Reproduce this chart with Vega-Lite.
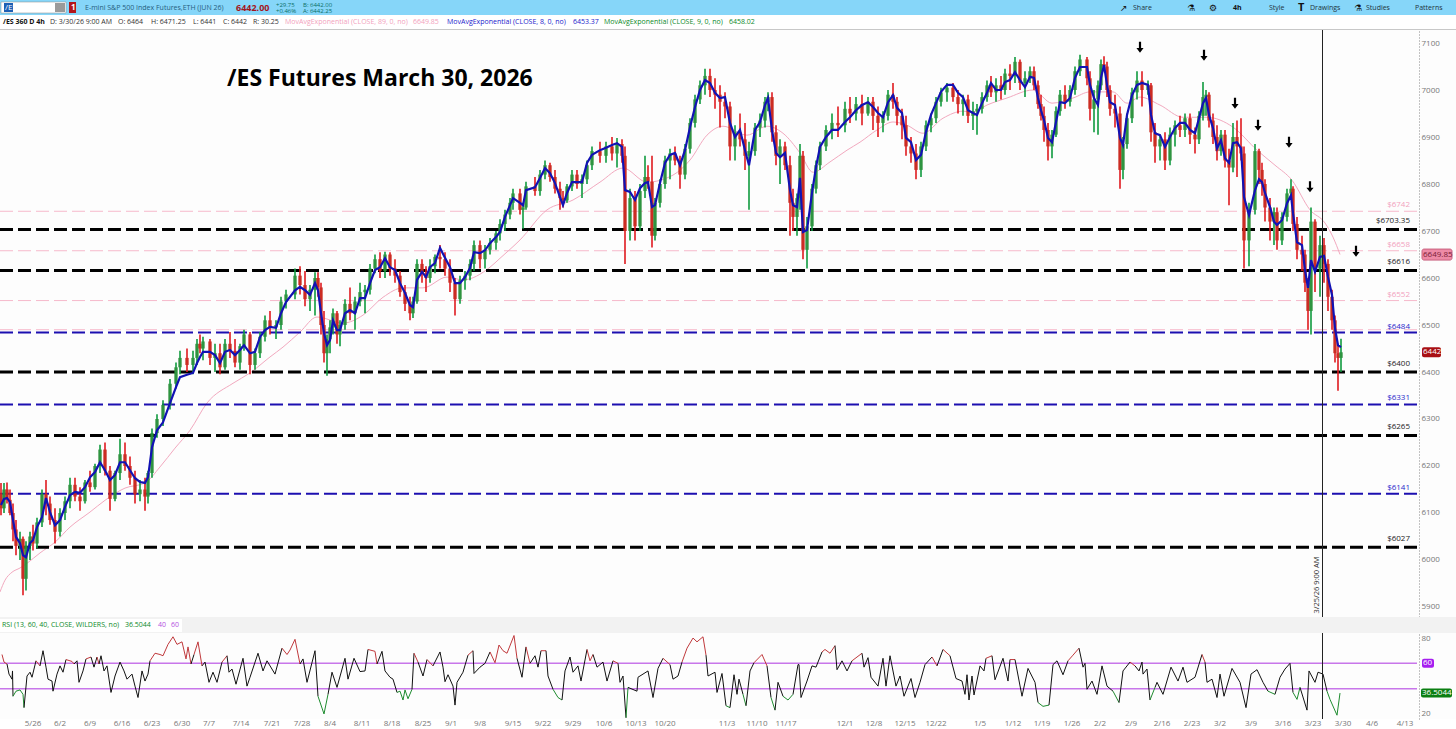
{"$schema":"https://vega.github.io/schema/vega-lite/v6.json","padding":{"left":-4,"top":0,"right":0,"bottom":0},"spacing":0,"bounds":"flush","background":"#ffffff","config":{"font":"Open Sans","view":{"stroke":null}},
"datasets":{
"ticks":[{"bar":33,"label":"5/26"},{"bar":60,"label":"6/2"},{"bar":90,"label":"6/9"},{"bar":122,"label":"6/16"},{"bar":152,"label":"6/23"},{"bar":182,"label":"6/30"},{"bar":209,"label":"7/7"},{"bar":241,"label":"7/14"},{"bar":272,"label":"7/21"},{"bar":302,"label":"7/28"},{"bar":330,"label":"8/4"},{"bar":362,"label":"8/11"},{"bar":392,"label":"8/18"},{"bar":423,"label":"8/25"},{"bar":451,"label":"9/1"},{"bar":480,"label":"9/8"},{"bar":513,"label":"9/15"},{"bar":543,"label":"9/22"},{"bar":573,"label":"9/29"},{"bar":604,"label":"10/6"},{"bar":636,"label":"10/13"},{"bar":665,"label":"10/20"},{"bar":727,"label":"11/3"},{"bar":757,"label":"11/10"},{"bar":786,"label":"11/17"},{"bar":845,"label":"12/1"},{"bar":874,"label":"12/8"},{"bar":905,"label":"12/15"},{"bar":936,"label":"12/22"},{"bar":980,"label":"1/5"},{"bar":1013,"label":"1/12"},{"bar":1042,"label":"1/19"},{"bar":1072,"label":"1/26"},{"bar":1100,"label":"2/2"},{"bar":1131,"label":"2/9"},{"bar":1162,"label":"2/16"},{"bar":1192,"label":"2/23"},{"bar":1220,"label":"3/2"},{"bar":1251,"label":"3/9"},{"bar":1283,"label":"3/16"},{"bar":1313,"label":"3/23"},{"bar":1343,"label":"3/30"},{"bar":1372,"label":"4/6"},{"bar":1405,"label":"4/13"}],
"levels":[{"price":6742,"label":"$6742","kind":"pink"},{"price":6658,"label":"$6658","kind":"pink"},{"price":6552,"label":"$6552","kind":"pink"},{"price":6490,"label":"","kind":"pink"},{"price":6484,"label":"$6484","kind":"blue"},{"price":6331,"label":"$6331","kind":"blue"},{"price":6141,"label":"$6141","kind":"blue"},{"price":6703.35,"label":"$6703.35","kind":"black"},{"price":6616,"label":"$6616","kind":"black"},{"price":6400,"label":"$6400","kind":"black"},{"price":6265,"label":"$6265","kind":"black"},{"price":6027,"label":"$6027","kind":"black"}],
"arrows":[{"bar":1140,"price":7091},{"bar":1204,"price":7074},{"bar":1235,"price":6972},{"bar":1258,"price":6925},{"bar":1289,"price":6889},{"bar":1310,"price":6794},{"bar":1356,"price":6657}],
"ema89":[{"bar":0,"v":5932},{"bar":5,"v":5957},{"bar":12,"v":5974},{"bar":20,"v":5983},{"bar":27,"v":5993},{"bar":40,"v":6015},{"bar":55,"v":6038},{"bar":70,"v":6070},{"bar":90,"v":6102},{"bar":105,"v":6127},{"bar":125,"v":6153},{"bar":145,"v":6164},{"bar":160,"v":6198},{"bar":175,"v":6238},{"bar":190,"v":6276},{"bar":207,"v":6334},{"bar":233,"v":6376},{"bar":250,"v":6398},{"bar":270,"v":6432},{"bar":283,"v":6453},{"bar":300,"v":6485},{"bar":317,"v":6517},{"bar":343,"v":6504},{"bar":363,"v":6521},{"bar":383,"v":6559},{"bar":403,"v":6579},{"bar":423,"v":6579},{"bar":447,"v":6602},{"bar":463,"v":6596},{"bar":490,"v":6623},{"bar":500,"v":6642},{"bar":520,"v":6681},{"bar":547,"v":6745},{"bar":573,"v":6766},{"bar":600,"v":6804},{"bar":623,"v":6834},{"bar":647,"v":6804},{"bar":673,"v":6819},{"bar":690,"v":6851},{"bar":707,"v":6904},{"bar":723,"v":6923},{"bar":747,"v":6904},{"bar":767,"v":6923},{"bar":783,"v":6908},{"bar":800,"v":6866},{"bar":813,"v":6825},{"bar":830,"v":6847},{"bar":847,"v":6872},{"bar":860,"v":6889},{"bar":877,"v":6915},{"bar":893,"v":6932},{"bar":907,"v":6925},{"bar":923,"v":6908},{"bar":943,"v":6940},{"bar":963,"v":6955},{"bar":973,"v":6953},{"bar":987,"v":6968},{"bar":1007,"v":6983},{"bar":1033,"v":7000},{"bar":1052,"v":6972},{"bar":1073,"v":6983},{"bar":1090,"v":6996},{"bar":1113,"v":6996},{"bar":1127,"v":6972},{"bar":1140,"v":6985},{"bar":1160,"v":6968},{"bar":1183,"v":6942},{"bar":1207,"v":6942},{"bar":1233,"v":6921},{"bar":1257,"v":6872},{"bar":1275,"v":6840},{"bar":1292,"v":6808},{"bar":1310,"v":6745},{"bar":1325,"v":6717},{"bar":1333,"v":6687},{"bar":1340,"v":6650}],
"candles":[
{"bar":1,"open":6140,"high":6164,"low":6095,"close":6110,"ema8":6117},{"bar":4,"open":6110,"high":6164,"low":6100,"close":6150,"ema8":6130},{"bar":7,"open":6150,"high":6165,"low":6120,"close":6128,"ema8":6132},{"bar":10,"open":6128,"high":6150,"low":6095,"close":6100,"ema8":6123},{"bar":13,"open":6100,"high":6120,"low":6040,"close":6065,"ema8":6085},{"bar":16,"open":6065,"high":6085,"low":6010,"close":6030,"ema8":6049},{"bar":20,"open":6030,"high":6060,"low":6000,"close":6045,"ema8":6036},{"bar":23,"open":6045,"high":6050,"low":5925,"close":5960,"ema8":6010},{"bar":26,"open":5960,"high":6040,"low":5935,"close":6030,"ema8":6006},{"bar":30,"open":6030,"high":6060,"low":6000,"close":6050,"ema8":6036},{"bar":33,"open":6050,"high":6075,"low":6020,"close":6035,"ema8":6042},{"bar":37,"open":6035,"high":6090,"low":6025,"close":6080,"ema8":6070},{"bar":42,"open":6080,"high":6150,"low":6070,"close":6140,"ema8":6091},{"bar":46,"open":6140,"high":6170,"low":6095,"close":6120,"ema8":6132},{"bar":50,"open":6120,"high":6135,"low":6075,"close":6085,"ema8":6102},{"bar":55,"open":6085,"high":6110,"low":6035,"close":6060,"ema8":6074},{"bar":60,"open":6060,"high":6110,"low":6050,"close":6100,"ema8":6085},{"bar":65,"open":6100,"high":6135,"low":6085,"close":6125,"ema8":6113},{"bar":70,"open":6125,"high":6175,"low":6110,"close":6160,"ema8":6138},{"bar":75,"open":6160,"high":6175,"low":6125,"close":6135,"ema8":6145},{"bar":80,"open":6135,"high":6155,"low":6105,"close":6125,"ema8":6143},{"bar":85,"open":6125,"high":6170,"low":6120,"close":6165,"ema8":6155},{"bar":90,"open":6165,"high":6190,"low":6145,"close":6155,"ema8":6176},{"bar":95,"open":6155,"high":6205,"low":6150,"close":6200,"ema8":6187},{"bar":100,"open":6200,"high":6245,"low":6185,"close":6235,"ema8":6208},{"bar":105,"open":6235,"high":6250,"low":6180,"close":6190,"ema8":6191},{"bar":110,"open":6190,"high":6200,"low":6105,"close":6130,"ema8":6170},{"bar":115,"open":6130,"high":6190,"low":6125,"close":6185,"ema8":6181},{"bar":120,"open":6185,"high":6258,"low":6170,"close":6225,"ema8":6208},{"bar":125,"open":6225,"high":6250,"low":6190,"close":6200,"ema8":6208},{"bar":130,"open":6200,"high":6220,"low":6160,"close":6175,"ema8":6191},{"bar":135,"open":6175,"high":6190,"low":6120,"close":6140,"ema8":6174},{"bar":140,"open":6140,"high":6170,"low":6125,"close":6150,"ema8":6166},{"bar":145,"open":6150,"high":6175,"low":6105,"close":6135,"ema8":6164},{"bar":148,"open":6135,"high":6190,"low":6120,"close":6185,"ema8":6176},{"bar":152,"open":6185,"high":6280,"low":6175,"close":6270,"ema8":6240},{"bar":157,"open":6270,"high":6310,"low":6260,"close":6300,"ema8":6276},{"bar":163,"open":6300,"high":6340,"low":6285,"close":6330,"ema8":6293},{"bar":170,"open":6330,"high":6385,"low":6320,"close":6375,"ema8":6334},{"bar":176,"open":6375,"high":6420,"low":6365,"close":6410,"ema8":6368},{"bar":180,"open":6410,"high":6445,"low":6395,"close":6430,"ema8":6389},{"bar":187,"open":6430,"high":6450,"low":6400,"close":6415,"ema8":6394},{"bar":193,"open":6415,"high":6445,"low":6395,"close":6430,"ema8":6398},{"bar":197,"open":6430,"high":6470,"low":6415,"close":6460,"ema8":6419},{"bar":200,"open":6460,"high":6480,"low":6440,"close":6450,"ema8":6432},{"bar":203,"open":6450,"high":6475,"low":6425,"close":6465,"ema8":6443},{"bar":210,"open":6465,"high":6470,"low":6415,"close":6430,"ema8":6443},{"bar":215,"open":6430,"high":6460,"low":6400,"close":6440,"ema8":6436},{"bar":220,"open":6440,"high":6460,"low":6395,"close":6410,"ema8":6419},{"bar":225,"open":6410,"high":6470,"low":6405,"close":6460,"ema8":6443},{"bar":230,"open":6460,"high":6485,"low":6430,"close":6445,"ema8":6447},{"bar":235,"open":6445,"high":6470,"low":6410,"close":6420,"ema8":6436},{"bar":240,"open":6420,"high":6460,"low":6405,"close":6455,"ema8":6447},{"bar":244,"open":6455,"high":6490,"low":6445,"close":6480,"ema8":6457},{"bar":250,"open":6480,"high":6485,"low":6395,"close":6415,"ema8":6440},{"bar":255,"open":6415,"high":6450,"low":6405,"close":6440,"ema8":6443},{"bar":260,"open":6440,"high":6485,"low":6430,"close":6475,"ema8":6474},{"bar":265,"open":6475,"high":6520,"low":6465,"close":6510,"ema8":6489},{"bar":270,"open":6510,"high":6530,"low":6480,"close":6495,"ema8":6496},{"bar":276,"open":6495,"high":6510,"low":6470,"close":6500,"ema8":6494},{"bar":281,"open":6500,"high":6560,"low":6490,"close":6550,"ema8":6525},{"bar":286,"open":6550,"high":6575,"low":6535,"close":6565,"ema8":6549},{"bar":295,"open":6565,"high":6620,"low":6555,"close":6605,"ema8":6574},{"bar":300,"open":6605,"high":6625,"low":6565,"close":6585,"ema8":6581},{"bar":305,"open":6585,"high":6615,"low":6540,"close":6555,"ema8":6574},{"bar":310,"open":6555,"high":6585,"low":6530,"close":6575,"ema8":6564},{"bar":315,"open":6575,"high":6612,"low":6520,"close":6600,"ema8":6589},{"bar":318,"open":6600,"high":6612,"low":6560,"close":6580,"ema8":6574},{"bar":321,"open":6580,"high":6590,"low":6480,"close":6500,"ema8":6525},{"bar":324,"open":6500,"high":6530,"low":6420,"close":6440,"ema8":6483},{"bar":327,"open":6440,"high":6480,"low":6392,"close":6470,"ema8":6457},{"bar":330,"open":6470,"high":6510,"low":6440,"close":6495,"ema8":6468},{"bar":333,"open":6495,"high":6535,"low":6480,"close":6525,"ema8":6510},{"bar":337,"open":6525,"high":6530,"low":6460,"close":6480,"ema8":6489},{"bar":340,"open":6480,"high":6510,"low":6455,"close":6500,"ema8":6489},{"bar":345,"open":6500,"high":6555,"low":6490,"close":6545,"ema8":6525},{"bar":350,"open":6545,"high":6580,"low":6510,"close":6525,"ema8":6532},{"bar":355,"open":6525,"high":6560,"low":6490,"close":6550,"ema8":6525},{"bar":360,"open":6550,"high":6590,"low":6540,"close":6570,"ema8":6557},{"bar":365,"open":6570,"high":6585,"low":6525,"close":6575,"ema8":6557},{"bar":370,"open":6575,"high":6630,"low":6565,"close":6620,"ema8":6589},{"bar":375,"open":6620,"high":6650,"low":6610,"close":6640,"ema8":6617},{"bar":380,"open":6640,"high":6655,"low":6600,"close":6615,"ema8":6623},{"bar":385,"open":6615,"high":6656,"low":6600,"close":6650,"ema8":6642},{"bar":390,"open":6650,"high":6655,"low":6605,"close":6620,"ema8":6623},{"bar":395,"open":6620,"high":6640,"low":6590,"close":6605,"ema8":6617},{"bar":400,"open":6605,"high":6615,"low":6560,"close":6570,"ema8":6589},{"bar":405,"open":6570,"high":6585,"low":6530,"close":6545,"ema8":6568},{"bar":410,"open":6545,"high":6560,"low":6510,"close":6525,"ema8":6542},{"bar":413,"open":6525,"high":6560,"low":6515,"close":6550,"ema8":6538},{"bar":417,"open":6550,"high":6640,"low":6545,"close":6630,"ema8":6596},{"bar":422,"open":6630,"high":6640,"low":6590,"close":6610,"ema8":6613},{"bar":426,"open":6610,"high":6625,"low":6570,"close":6600,"ema8":6602},{"bar":430,"open":6600,"high":6640,"low":6590,"close":6625,"ema8":6623},{"bar":435,"open":6625,"high":6650,"low":6610,"close":6645,"ema8":6632},{"bar":440,"open":6645,"high":6670,"low":6620,"close":6640,"ema8":6664},{"bar":445,"open":6640,"high":6655,"low":6605,"close":6620,"ema8":6643},{"bar":450,"open":6620,"high":6640,"low":6570,"close":6590,"ema8":6623},{"bar":455,"open":6590,"high":6600,"low":6520,"close":6555,"ema8":6589},{"bar":460,"open":6555,"high":6605,"low":6545,"close":6595,"ema8":6589},{"bar":465,"open":6595,"high":6615,"low":6575,"close":6605,"ema8":6602},{"bar":470,"open":6605,"high":6640,"low":6595,"close":6630,"ema8":6621},{"bar":474,"open":6630,"high":6680,"low":6615,"close":6670,"ema8":6655},{"bar":480,"open":6670,"high":6680,"low":6620,"close":6640,"ema8":6653},{"bar":485,"open":6640,"high":6670,"low":6620,"close":6660,"ema8":6659},{"bar":490,"open":6660,"high":6685,"low":6650,"close":6675,"ema8":6674},{"bar":496,"open":6675,"high":6700,"low":6660,"close":6695,"ema8":6687},{"bar":500,"open":6695,"high":6725,"low":6680,"close":6715,"ema8":6698},{"bar":505,"open":6715,"high":6745,"low":6700,"close":6735,"ema8":6730},{"bar":510,"open":6735,"high":6770,"low":6725,"close":6760,"ema8":6755},{"bar":513,"open":6760,"high":6790,"low":6745,"close":6780,"ema8":6770},{"bar":520,"open":6780,"high":6790,"low":6735,"close":6745,"ema8":6760},{"bar":523,"open":6745,"high":6760,"low":6705,"close":6750,"ema8":6755},{"bar":526,"open":6750,"high":6805,"low":6745,"close":6795,"ema8":6787},{"bar":535,"open":6795,"high":6815,"low":6775,"close":6785,"ema8":6793},{"bar":540,"open":6785,"high":6830,"low":6775,"close":6820,"ema8":6813},{"bar":545,"open":6820,"high":6850,"low":6810,"close":6840,"ema8":6834},{"bar":550,"open":6840,"high":6845,"low":6805,"close":6815,"ema8":6823},{"bar":555,"open":6815,"high":6830,"low":6780,"close":6790,"ema8":6802},{"bar":560,"open":6790,"high":6805,"low":6745,"close":6770,"ema8":6772},{"bar":563,"open":6770,"high":6785,"low":6750,"close":6765,"ema8":6755},{"bar":567,"open":6765,"high":6800,"low":6760,"close":6795,"ema8":6781},{"bar":572,"open":6795,"high":6830,"low":6785,"close":6820,"ema8":6804},{"bar":577,"open":6820,"high":6830,"low":6790,"close":6800,"ema8":6804},{"bar":582,"open":6800,"high":6820,"low":6770,"close":6810,"ema8":6804},{"bar":587,"open":6810,"high":6850,"low":6800,"close":6840,"ema8":6845},{"bar":592,"open":6840,"high":6880,"low":6830,"close":6870,"ema8":6862},{"bar":600,"open":6870,"high":6890,"low":6845,"close":6860,"ema8":6872},{"bar":606,"open":6860,"high":6890,"low":6845,"close":6880,"ema8":6877},{"bar":612,"open":6880,"high":6900,"low":6850,"close":6865,"ema8":6883},{"bar":617,"open":6865,"high":6898,"low":6835,"close":6885,"ema8":6887},{"bar":622,"open":6885,"high":6895,"low":6845,"close":6860,"ema8":6879},{"bar":625,"open":6860,"high":6880,"low":6630,"close":6700,"ema8":6787},{"bar":630,"open":6700,"high":6790,"low":6680,"close":6770,"ema8":6783},{"bar":635,"open":6770,"high":6785,"low":6680,"close":6710,"ema8":6766},{"bar":640,"open":6710,"high":6800,"low":6700,"close":6785,"ema8":6791},{"bar":645,"open":6785,"high":6860,"low":6770,"close":6815,"ema8":6802},{"bar":648,"open":6815,"high":6840,"low":6790,"close":6805,"ema8":6804},{"bar":652,"open":6805,"high":6860,"low":6665,"close":6690,"ema8":6751},{"bar":655,"open":6690,"high":6770,"low":6680,"close":6760,"ema8":6755},{"bar":660,"open":6760,"high":6810,"low":6750,"close":6800,"ema8":6802},{"bar":665,"open":6800,"high":6860,"low":6790,"close":6850,"ema8":6845},{"bar":670,"open":6850,"high":6875,"low":6810,"close":6865,"ema8":6862},{"bar":675,"open":6865,"high":6880,"low":6840,"close":6850,"ema8":6866},{"bar":680,"open":6850,"high":6860,"low":6790,"close":6820,"ema8":6840},{"bar":685,"open":6820,"high":6885,"low":6810,"close":6875,"ema8":6872},{"bar":690,"open":6875,"high":6940,"low":6865,"close":6930,"ema8":6921},{"bar":695,"open":6930,"high":6990,"low":6920,"close":6980,"ema8":6964},{"bar":700,"open":6980,"high":7020,"low":6970,"close":7010,"ema8":7000},{"bar":705,"open":7010,"high":7045,"low":6990,"close":7030,"ema8":7021},{"bar":710,"open":7030,"high":7045,"low":6985,"close":7000,"ema8":7015},{"bar":715,"open":7000,"high":7025,"low":6960,"close":6990,"ema8":6994},{"bar":720,"open":6990,"high":7010,"low":6920,"close":6975,"ema8":6983},{"bar":725,"open":6975,"high":6995,"low":6940,"close":6965,"ema8":6985},{"bar":730,"open":6965,"high":6975,"low":6850,"close":6880,"ema8":6930},{"bar":735,"open":6880,"high":6925,"low":6850,"close":6910,"ema8":6900},{"bar":740,"open":6910,"high":6950,"low":6880,"close":6895,"ema8":6915},{"bar":745,"open":6895,"high":6930,"low":6830,"close":6860,"ema8":6872},{"bar":749,"open":6860,"high":6890,"low":6745,"close":6870,"ema8":6840},{"bar":755,"open":6870,"high":6930,"low":6860,"close":6920,"ema8":6915},{"bar":760,"open":6920,"high":6950,"low":6900,"close":6935,"ema8":6932},{"bar":765,"open":6935,"high":6985,"low":6920,"close":6975,"ema8":6968},{"bar":768,"open":6975,"high":6995,"low":6955,"close":6985,"ema8":6983},{"bar":772,"open":6985,"high":6995,"low":6890,"close":6910,"ema8":6915},{"bar":776,"open":6910,"high":6925,"low":6840,"close":6860,"ema8":6866},{"bar":780,"open":6860,"high":6895,"low":6800,"close":6880,"ema8":6857},{"bar":785,"open":6880,"high":6890,"low":6830,"close":6840,"ema8":6866},{"bar":790,"open":6840,"high":6860,"low":6690,"close":6760,"ema8":6787},{"bar":793,"open":6760,"high":6790,"low":6700,"close":6730,"ema8":6755},{"bar":797,"open":6730,"high":6780,"low":6690,"close":6770,"ema8":6751},{"bar":800,"open":6770,"high":6885,"low":6745,"close":6860,"ema8":6813},{"bar":803,"open":6860,"high":6870,"low":6640,"close":6660,"ema8":6698},{"bar":807,"open":6660,"high":6730,"low":6620,"close":6710,"ema8":6702},{"bar":812,"open":6710,"high":6800,"low":6700,"close":6790,"ema8":6781},{"bar":816,"open":6790,"high":6850,"low":6780,"close":6840,"ema8":6836},{"bar":820,"open":6840,"high":6890,"low":6830,"close":6880,"ema8":6879},{"bar":826,"open":6880,"high":6925,"low":6870,"close":6915,"ema8":6900},{"bar":832,"open":6915,"high":6950,"low":6895,"close":6930,"ema8":6915},{"bar":838,"open":6930,"high":6965,"low":6900,"close":6925,"ema8":6915},{"bar":845,"open":6925,"high":6975,"low":6910,"close":6960,"ema8":6932},{"bar":850,"open":6960,"high":6985,"low":6930,"close":6950,"ema8":6942},{"bar":856,"open":6950,"high":6985,"low":6935,"close":6970,"ema8":6957},{"bar":862,"open":6970,"high":6990,"low":6925,"close":6950,"ema8":6968},{"bar":868,"open":6950,"high":6985,"low":6945,"close":6975,"ema8":6974},{"bar":873,"open":6975,"high":6985,"low":6915,"close":6945,"ema8":6964},{"bar":878,"open":6945,"high":6965,"low":6900,"close":6930,"ema8":6951},{"bar":883,"open":6930,"high":6955,"low":6910,"close":6945,"ema8":6942},{"bar":888,"open":6945,"high":7000,"low":6935,"close":6990,"ema8":6974},{"bar":893,"open":6990,"high":7015,"low":6960,"close":6975,"ema8":6989},{"bar":897,"open":6975,"high":6985,"low":6925,"close":6945,"ema8":6962},{"bar":902,"open":6945,"high":6960,"low":6895,"close":6925,"ema8":6951},{"bar":906,"open":6925,"high":6945,"low":6860,"close":6880,"ema8":6898},{"bar":911,"open":6880,"high":6900,"low":6845,"close":6865,"ema8":6889},{"bar":916,"open":6865,"high":6885,"low":6810,"close":6830,"ema8":6851},{"bar":921,"open":6830,"high":6890,"low":6815,"close":6880,"ema8":6862},{"bar":926,"open":6880,"high":6935,"low":6870,"close":6925,"ema8":6911},{"bar":931,"open":6925,"high":6950,"low":6910,"close":6940,"ema8":6947},{"bar":936,"open":6940,"high":6985,"low":6930,"close":6975,"ema8":6972},{"bar":941,"open":6975,"high":7005,"low":6965,"close":6995,"ema8":6996},{"bar":947,"open":6995,"high":7015,"low":6975,"close":7005,"ema8":7011},{"bar":953,"open":7005,"high":7015,"low":6975,"close":6985,"ema8":7011},{"bar":958,"open":6985,"high":7000,"low":6950,"close":6970,"ema8":6994},{"bar":963,"open":6970,"high":6990,"low":6945,"close":6980,"ema8":6985},{"bar":968,"open":6980,"high":6990,"low":6930,"close":6945,"ema8":6957},{"bar":973,"open":6945,"high":6975,"low":6915,"close":6955,"ema8":6951},{"bar":977,"open":6955,"high":6970,"low":6905,"close":6960,"ema8":6947},{"bar":982,"open":6960,"high":6995,"low":6950,"close":6985,"ema8":6972},{"bar":987,"open":6985,"high":7020,"low":6975,"close":7010,"ema8":6994},{"bar":991,"open":7010,"high":7030,"low":6985,"close":6995,"ema8":7015},{"bar":996,"open":6995,"high":7025,"low":6975,"close":7010,"ema8":7000},{"bar":1001,"open":7010,"high":7030,"low":6980,"close":7000,"ema8":7000},{"bar":1005,"open":7000,"high":7045,"low":6990,"close":7035,"ema8":7017},{"bar":1010,"open":7035,"high":7055,"low":7000,"close":7030,"ema8":7021},{"bar":1015,"open":7030,"high":7070,"low":7015,"close":7060,"ema8":7038},{"bar":1020,"open":7060,"high":7065,"low":7000,"close":7015,"ema8":7021},{"bar":1025,"open":7015,"high":7040,"low":6985,"close":7025,"ema8":7006},{"bar":1030,"open":7025,"high":7050,"low":7015,"close":7040,"ema8":7028},{"bar":1034,"open":7040,"high":7050,"low":7000,"close":7010,"ema8":7026},{"bar":1038,"open":7010,"high":7020,"low":6960,"close":6970,"ema8":6983},{"bar":1041,"open":6970,"high":6990,"low":6935,"close":6945,"ema8":6957},{"bar":1044,"open":6945,"high":6965,"low":6890,"close":6915,"ema8":6936},{"bar":1048,"open":6915,"high":6930,"low":6850,"close":6880,"ema8":6898},{"bar":1052,"open":6880,"high":6915,"low":6855,"close":6905,"ema8":6889},{"bar":1056,"open":6905,"high":6965,"low":6900,"close":6955,"ema8":6932},{"bar":1060,"open":6955,"high":7000,"low":6945,"close":6990,"ema8":6974},{"bar":1065,"open":6990,"high":7010,"low":6960,"close":6975,"ema8":6972},{"bar":1070,"open":6975,"high":7010,"low":6965,"close":7000,"ema8":6983},{"bar":1075,"open":7000,"high":7050,"low":6990,"close":7040,"ema8":7026},{"bar":1080,"open":7040,"high":7075,"low":7030,"close":7065,"ema8":7049},{"bar":1087,"open":7065,"high":7070,"low":7010,"close":7025,"ema8":7049},{"bar":1090,"open":7025,"high":7040,"low":6935,"close":6960,"ema8":7011},{"bar":1094,"open":6960,"high":7000,"low":6910,"close":6980,"ema8":6983},{"bar":1098,"open":6980,"high":7020,"low":6905,"close":7010,"ema8":6968},{"bar":1101,"open":7010,"high":7065,"low":7000,"close":7055,"ema8":7026},{"bar":1104,"open":7055,"high":7072,"low":7040,"close":7050,"ema8":7053},{"bar":1107,"open":7050,"high":7060,"low":6985,"close":7000,"ema8":7011},{"bar":1110,"open":7000,"high":7010,"low":6945,"close":6960,"ema8":6974},{"bar":1115,"open":6960,"high":6990,"low":6920,"close":6950,"ema8":6968},{"bar":1120,"open":6950,"high":6965,"low":6790,"close":6830,"ema8":6898},{"bar":1123,"open":6830,"high":6900,"low":6810,"close":6885,"ema8":6883},{"bar":1127,"open":6885,"high":6950,"low":6875,"close":6940,"ema8":6947},{"bar":1132,"open":6940,"high":7005,"low":6930,"close":6995,"ema8":6989},{"bar":1137,"open":6995,"high":7040,"low":6980,"close":7020,"ema8":7011},{"bar":1142,"open":7020,"high":7040,"low":6965,"close":7000,"ema8":7015},{"bar":1148,"open":7000,"high":7020,"low":6990,"close":7010,"ema8":7011},{"bar":1151,"open":7010,"high":7015,"low":6890,"close":6910,"ema8":6947},{"bar":1155,"open":6910,"high":6930,"low":6845,"close":6880,"ema8":6908},{"bar":1160,"open":6880,"high":6905,"low":6850,"close":6895,"ema8":6904},{"bar":1165,"open":6895,"high":6910,"low":6830,"close":6850,"ema8":6879},{"bar":1170,"open":6850,"high":6920,"low":6840,"close":6905,"ema8":6900},{"bar":1175,"open":6905,"high":6935,"low":6880,"close":6925,"ema8":6919},{"bar":1180,"open":6925,"high":6945,"low":6900,"close":6915,"ema8":6930},{"bar":1185,"open":6915,"high":6950,"low":6900,"close":6940,"ema8":6930},{"bar":1190,"open":6940,"high":6950,"low":6885,"close":6905,"ema8":6915},{"bar":1195,"open":6905,"high":6920,"low":6865,"close":6895,"ema8":6908},{"bar":1199,"open":6895,"high":6955,"low":6885,"close":6945,"ema8":6940},{"bar":1203,"open":6945,"high":7017,"low":6935,"close":6985,"ema8":6972},{"bar":1206,"open":6985,"high":7000,"low":6945,"close":6990,"ema8":6983},{"bar":1209,"open":6990,"high":6995,"low":6920,"close":6935,"ema8":6947},{"bar":1213,"open":6935,"high":6950,"low":6885,"close":6900,"ema8":6919},{"bar":1217,"open":6900,"high":6925,"low":6850,"close":6870,"ema8":6876},{"bar":1221,"open":6870,"high":6915,"low":6860,"close":6905,"ema8":6893},{"bar":1225,"open":6905,"high":6915,"low":6835,"close":6850,"ema8":6855},{"bar":1229,"open":6850,"high":6875,"low":6755,"close":6835,"ema8":6845},{"bar":1233,"open":6835,"high":6930,"low":6825,"close":6900,"ema8":6887},{"bar":1237,"open":6900,"high":6935,"low":6815,"close":6880,"ema8":6889},{"bar":1241,"open":6880,"high":6940,"low":6850,"close":6865,"ema8":6876},{"bar":1244,"open":6865,"high":6880,"low":6620,"close":6680,"ema8":6772},{"bar":1249,"open":6680,"high":6760,"low":6625,"close":6745,"ema8":6734},{"bar":1255,"open":6745,"high":6885,"low":6735,"close":6870,"ema8":6787},{"bar":1259,"open":6870,"high":6875,"low":6800,"close":6830,"ema8":6810},{"bar":1262,"open":6830,"high":6845,"low":6775,"close":6800,"ema8":6804},{"bar":1265,"open":6800,"high":6810,"low":6720,"close":6750,"ema8":6781},{"bar":1270,"open":6750,"high":6770,"low":6680,"close":6720,"ema8":6751},{"bar":1274,"open":6720,"high":6750,"low":6670,"close":6740,"ema8":6720},{"bar":1277,"open":6740,"high":6750,"low":6660,"close":6680,"ema8":6713},{"bar":1282,"open":6680,"high":6740,"low":6670,"close":6730,"ema8":6723},{"bar":1287,"open":6730,"high":6790,"low":6720,"close":6780,"ema8":6759},{"bar":1291,"open":6780,"high":6810,"low":6770,"close":6790,"ema8":6776},{"bar":1293,"open":6790,"high":6795,"low":6700,"close":6715,"ema8":6738},{"bar":1297,"open":6715,"high":6730,"low":6640,"close":6660,"ema8":6676},{"bar":1302,"open":6660,"high":6690,"low":6615,"close":6650,"ema8":6670},{"bar":1305,"open":6650,"high":6660,"low":6570,"close":6590,"ema8":6617},{"bar":1308,"open":6590,"high":6600,"low":6490,"close":6530,"ema8":6579},{"bar":1311,"open":6530,"high":6750,"low":6480,"close":6720,"ema8":6638},{"bar":1315,"open":6720,"high":6725,"low":6570,"close":6620,"ema8":6613},{"bar":1320,"open":6620,"high":6690,"low":6560,"close":6670,"ema8":6645},{"bar":1324,"open":6670,"high":6685,"low":6590,"close":6630,"ema8":6647},{"bar":1328,"open":6630,"high":6640,"low":6530,"close":6560,"ema8":6602},{"bar":1332,"open":6560,"high":6575,"low":6490,"close":6510,"ema8":6564},{"bar":1335,"open":6510,"high":6520,"low":6420,"close":6440,"ema8":6493},{"bar":1338,"open":6440,"high":6460,"low":6360,"close":6430,"ema8":6457},{"bar":1341,"open":6430,"high":6471,"low":6400,"close":6442,"ema8":6453}],
"rsi":[{"bar":2,"rsi":67},{"bar":4,"rsi":61},{"bar":7,"rsi":59.5},{"bar":9,"rsi":51.5},{"bar":12,"rsi":47.5},{"bar":12.5,"rsi":54},{"bar":13,"rsi":34},{"bar":16,"rsi":38},{"bar":20,"rsi":39},{"bar":23,"rsi":35.5},{"bar":24,"rsi":25},{"bar":27,"rsi":50},{"bar":30,"rsi":53},{"bar":32,"rsi":49},{"bar":36,"rsi":62},{"bar":40,"rsi":58},{"bar":43,"rsi":70},{"bar":46,"rsi":57},{"bar":48,"rsi":47.5},{"bar":52,"rsi":46},{"bar":53,"rsi":38},{"bar":57,"rsi":51.5},{"bar":60,"rsi":58},{"bar":63,"rsi":53},{"bar":66,"rsi":63},{"bar":72,"rsi":61.5},{"bar":74,"rsi":59.5},{"bar":77,"rsi":62},{"bar":79,"rsi":45},{"bar":83,"rsi":54},{"bar":86,"rsi":63.5},{"bar":91,"rsi":65},{"bar":94,"rsi":57},{"bar":97,"rsi":65},{"bar":99,"rsi":59.5},{"bar":101,"rsi":66},{"bar":104,"rsi":54},{"bar":107,"rsi":58},{"bar":111,"rsi":37},{"bar":115,"rsi":50},{"bar":120,"rsi":61},{"bar":124,"rsi":54},{"bar":127,"rsi":47.5},{"bar":132,"rsi":51.5},{"bar":135,"rsi":42},{"bar":138,"rsi":33},{"bar":142,"rsi":54},{"bar":145,"rsi":46},{"bar":148,"rsi":51.5},{"bar":150,"rsi":62},{"bar":155,"rsi":68},{"bar":160,"rsi":67},{"bar":163,"rsi":66},{"bar":168,"rsi":75},{"bar":173,"rsi":81},{"bar":177,"rsi":75},{"bar":182,"rsi":77},{"bar":186,"rsi":63.5},{"bar":188,"rsi":73},{"bar":191,"rsi":59.5},{"bar":194,"rsi":67},{"bar":198,"rsi":77},{"bar":202,"rsi":58},{"bar":205,"rsi":61},{"bar":209,"rsi":45},{"bar":213,"rsi":53},{"bar":217,"rsi":45},{"bar":222,"rsi":61},{"bar":227,"rsi":66},{"bar":229,"rsi":53},{"bar":232,"rsi":55.5},{"bar":236,"rsi":43.5},{"bar":243,"rsi":64},{"bar":247,"rsi":42},{"bar":250,"rsi":49},{"bar":258,"rsi":68},{"bar":263,"rsi":54},{"bar":267,"rsi":62},{"bar":275,"rsi":51.5},{"bar":282,"rsi":72},{"bar":287,"rsi":67},{"bar":290,"rsi":70.5},{"bar":295,"rsi":79},{"bar":300,"rsi":59.5},{"bar":303,"rsi":63.5},{"bar":307,"rsi":45},{"bar":315,"rsi":70},{"bar":318,"rsi":34},{"bar":324,"rsi":20},{"bar":328,"rsi":35.5},{"bar":332,"rsi":53},{"bar":337,"rsi":41},{"bar":345,"rsi":64},{"bar":348,"rsi":47.5},{"bar":354,"rsi":64},{"bar":360,"rsi":53.5},{"bar":365,"rsi":54},{"bar":368,"rsi":71},{"bar":375,"rsi":69.5},{"bar":377,"rsi":59.5},{"bar":382,"rsi":69.5},{"bar":385,"rsi":54},{"bar":390,"rsi":49},{"bar":393,"rsi":47.5},{"bar":397,"rsi":37},{"bar":400,"rsi":38},{"bar":403,"rsi":31},{"bar":405,"rsi":39},{"bar":408,"rsi":32},{"bar":412,"rsi":39.5},{"bar":414,"rsi":68},{"bar":418,"rsi":61},{"bar":423,"rsi":50},{"bar":427,"rsi":63},{"bar":433,"rsi":58},{"bar":440,"rsi":69},{"bar":443,"rsi":57},{"bar":445,"rsi":45.5},{"bar":448,"rsi":51},{"bar":453,"rsi":42},{"bar":455,"rsi":27},{"bar":457,"rsi":45},{"bar":463,"rsi":53},{"bar":468,"rsi":66.5},{"bar":473,"rsi":70},{"bar":474,"rsi":52},{"bar":480,"rsi":57},{"bar":485,"rsi":60},{"bar":490,"rsi":69},{"bar":495,"rsi":60.5},{"bar":499,"rsi":74.5},{"bar":503,"rsi":70},{"bar":507,"rsi":68},{"bar":514,"rsi":82},{"bar":517,"rsi":64},{"bar":522,"rsi":49},{"bar":526,"rsi":73},{"bar":530,"rsi":60},{"bar":535,"rsi":66},{"bar":538,"rsi":57},{"bar":541,"rsi":70},{"bar":546,"rsi":70},{"bar":548,"rsi":50},{"bar":553,"rsi":39.5},{"bar":558,"rsi":33},{"bar":562,"rsi":31},{"bar":565,"rsi":54},{"bar":570,"rsi":65},{"bar":573,"rsi":53},{"bar":578,"rsi":58},{"bar":581,"rsi":46},{"bar":587,"rsi":71},{"bar":590,"rsi":62},{"bar":593,"rsi":67},{"bar":597,"rsi":57},{"bar":603,"rsi":61},{"bar":607,"rsi":46},{"bar":613,"rsi":62},{"bar":618,"rsi":60},{"bar":620,"rsi":45},{"bar":623,"rsi":50},{"bar":626,"rsi":17},{"bar":628,"rsi":41},{"bar":637,"rsi":38},{"bar":638,"rsi":49},{"bar":648,"rsi":54},{"bar":653,"rsi":33},{"bar":658,"rsi":56},{"bar":663,"rsi":64},{"bar":670,"rsi":59},{"bar":673,"rsi":47.5},{"bar":678,"rsi":50},{"bar":682,"rsi":61},{"bar":687,"rsi":72},{"bar":693,"rsi":80},{"bar":697,"rsi":77},{"bar":703,"rsi":81},{"bar":706,"rsi":66.5},{"bar":708,"rsi":50},{"bar":715,"rsi":53},{"bar":717,"rsi":37},{"bar":722,"rsi":52},{"bar":726,"rsi":26.5},{"bar":730,"rsi":25},{"bar":734,"rsi":51},{"bar":737,"rsi":35.5},{"bar":739,"rsi":47.5},{"bar":743,"rsi":35.5},{"bar":746,"rsi":26.5},{"bar":750,"rsi":54},{"bar":754,"rsi":60.5},{"bar":762,"rsi":67},{"bar":767,"rsi":58},{"bar":771,"rsi":33},{"bar":775,"rsi":23},{"bar":778,"rsi":45},{"bar":783,"rsi":34},{"bar":788,"rsi":31},{"bar":793,"rsi":35.5},{"bar":798,"rsi":59},{"bar":799,"rsi":59},{"bar":801,"rsi":33},{"bar":807,"rsi":46},{"bar":812,"rsi":58},{"bar":816,"rsi":57},{"bar":822,"rsi":69},{"bar":825,"rsi":71},{"bar":830,"rsi":68},{"bar":835,"rsi":74},{"bar":837,"rsi":55},{"bar":842,"rsi":62},{"bar":847,"rsi":54},{"bar":852,"rsi":62},{"bar":862,"rsi":68},{"bar":864,"rsi":57},{"bar":868,"rsi":64.5},{"bar":871,"rsi":49},{"bar":878,"rsi":42},{"bar":883,"rsi":64},{"bar":886,"rsi":42},{"bar":890,"rsi":66},{"bar":896,"rsi":42},{"bar":900,"rsi":50},{"bar":904,"rsi":34},{"bar":911,"rsi":48},{"bar":915,"rsi":33},{"bar":920,"rsi":45},{"bar":925,"rsi":59},{"bar":932,"rsi":65},{"bar":937,"rsi":58},{"bar":943,"rsi":71},{"bar":950,"rsi":66},{"bar":956,"rsi":48},{"bar":962,"rsi":46},{"bar":965,"rsi":35.5},{"bar":967,"rsi":51},{"bar":969,"rsi":31},{"bar":972,"rsi":50},{"bar":974,"rsi":35},{"bar":980,"rsi":58},{"bar":984,"rsi":54},{"bar":986,"rsi":64},{"bar":992,"rsi":66},{"bar":995,"rsi":47},{"bar":1003,"rsi":64},{"bar":1008,"rsi":46},{"bar":1010,"rsi":63},{"bar":1015,"rsi":63},{"bar":1022,"rsi":34},{"bar":1028,"rsi":56},{"bar":1035,"rsi":45},{"bar":1038,"rsi":29},{"bar":1043,"rsi":26},{"bar":1049,"rsi":27},{"bar":1053,"rsi":59},{"bar":1057,"rsi":62},{"bar":1063,"rsi":51},{"bar":1068,"rsi":62},{"bar":1073,"rsi":66.5},{"bar":1079,"rsi":72},{"bar":1083,"rsi":57},{"bar":1085,"rsi":60},{"bar":1087,"rsi":39.5},{"bar":1092,"rsi":46},{"bar":1097,"rsi":35.5},{"bar":1102,"rsi":58},{"bar":1107,"rsi":42},{"bar":1113,"rsi":38},{"bar":1119,"rsi":29},{"bar":1123,"rsi":54},{"bar":1130,"rsi":61},{"bar":1135,"rsi":58},{"bar":1139,"rsi":54},{"bar":1142,"rsi":61},{"bar":1143,"rsi":51.5},{"bar":1147,"rsi":55.5},{"bar":1150,"rsi":31},{"bar":1155,"rsi":41},{"bar":1157,"rsi":45},{"bar":1163,"rsi":35.5},{"bar":1171,"rsi":57},{"bar":1178,"rsi":46},{"bar":1183,"rsi":57},{"bar":1187,"rsi":45},{"bar":1195,"rsi":49},{"bar":1202,"rsi":67},{"bar":1205,"rsi":61},{"bar":1207,"rsi":45},{"bar":1212,"rsi":47.5},{"bar":1217,"rsi":33},{"bar":1220,"rsi":51.5},{"bar":1224,"rsi":34},{"bar":1232,"rsi":56},{"bar":1240,"rsi":45},{"bar":1246,"rsi":25},{"bar":1251,"rsi":51.5},{"bar":1257,"rsi":55},{"bar":1263,"rsi":45},{"bar":1268,"rsi":38},{"bar":1275,"rsi":35.5},{"bar":1280,"rsi":49},{"bar":1285,"rsi":55.5},{"bar":1290,"rsi":60},{"bar":1293,"rsi":37},{"bar":1297,"rsi":31.5},{"bar":1300,"rsi":41},{"bar":1307,"rsi":23},{"bar":1309,"rsi":54},{"bar":1315,"rsi":45},{"bar":1318,"rsi":53},{"bar":1323,"rsi":51.5},{"bar":1327,"rsi":38},{"bar":1330,"rsi":31.5},{"bar":1337,"rsi":19},{"bar":1340,"rsi":36.5}]
},
"vconcat":[
{"width":1456,"height":30,"data":{"values":[{}]},"layer":[
{"mark":{"type":"rect","fill":"#86d6f9"},"encoding":{"x":{"value":0},"x2":{"value":1456},"y":{"value":0},"y2":{"value":15}}},
{"mark":{"type":"rect","fill":"#ffffff","stroke":"#8a8a8a","strokeWidth":0.5},"encoding":{"x":{"value":1},"x2":{"value":66},"y":{"value":2},"y2":{"value":13}}},
{"mark":{"type":"rect","fill":"#1d5fb4"},"encoding":{"x":{"value":4},"x2":{"value":13},"y":{"value":3},"y2":{"value":12}}},
{"mark":{"type":"rect","fill":"#9a9a9a"},"encoding":{"x":{"value":55},"x2":{"value":65},"y":{"value":3},"y2":{"value":12}}},
{"mark":{"type":"rect","fill":"#b3161c"},"encoding":{"x":{"value":69},"x2":{"value":76},"y":{"value":2},"y2":{"value":13}}},
{"mark":{"type":"rule","stroke":"#c8c8c8"},"encoding":{"x":{"value":0},"x2":{"value":1456},"y":{"value":29.5}}},
{"mark":{"type":"text","align":"left","fontSize":8,"fill":"#ffffff","baseline":"middle"},"encoding":{"x":{"value":5},"y":{"value":8},"text":{"value":"/ES"}}},
{"mark":{"type":"text","align":"left","fontSize":8,"fill":"#ffffff","fontWeight":"bold","baseline":"middle"},"encoding":{"x":{"value":71},"y":{"value":8},"text":{"value":"1"}}},
{"mark":{"type":"text","align":"left","fontSize":7,"fill":"#27607e","baseline":"middle"},"encoding":{"x":{"value":85},"y":{"value":8},"text":{"value":"E-mini S&P 500 Index Futures,ETH (JUN 26)"}}},
{"mark":{"type":"text","align":"left","fontSize":9,"fill":"#a3141c","fontWeight":"bold","baseline":"middle"},"encoding":{"x":{"value":236},"y":{"value":8},"text":{"value":"6442.00"}}},
{"mark":{"type":"text","align":"left","fontSize":6,"fill":"#0b6e66","baseline":"middle"},"encoding":{"x":{"value":276},"y":{"value":4.5},"text":{"value":"+29.75"}}},
{"mark":{"type":"text","align":"left","fontSize":6,"fill":"#0b6e66","baseline":"middle"},"encoding":{"x":{"value":276},"y":{"value":11},"text":{"value":"+0.46%"}}},
{"mark":{"type":"text","align":"left","fontSize":6,"fill":"#0b6e66","baseline":"middle"},"encoding":{"x":{"value":303},"y":{"value":4.5},"text":{"value":"B: 6442.00"}}},
{"mark":{"type":"text","align":"left","fontSize":6,"fill":"#0b6e66","baseline":"middle"},"encoding":{"x":{"value":303},"y":{"value":11},"text":{"value":"A: 6442.25"}}},
{"mark":{"type":"text","align":"left","font":"DejaVu Sans","fontSize":9,"fill":"#111111","baseline":"middle"},"encoding":{"x":{"value":1120},"y":{"value":8},"text":{"value":"↗"}}},
{"mark":{"type":"text","align":"left","fontSize":7,"fill":"#22343c","baseline":"middle"},"encoding":{"x":{"value":1133},"y":{"value":8},"text":{"value":"Share"}}},
{"mark":{"type":"text","align":"left","font":"DejaVu Sans","fontSize":9,"fill":"#111111","baseline":"middle"},"encoding":{"x":{"value":1187},"y":{"value":8},"text":{"value":"⚗"}}},
{"mark":{"type":"text","align":"left","font":"DejaVu Sans","fontSize":9,"fill":"#111111","baseline":"middle"},"encoding":{"x":{"value":1209},"y":{"value":8},"text":{"value":"⚙"}}},
{"mark":{"type":"text","align":"left","fontSize":7,"fill":"#111111","fontWeight":"bold","baseline":"middle"},"encoding":{"x":{"value":1233},"y":{"value":8},"text":{"value":"4h"}}},
{"mark":{"type":"text","align":"left","fontSize":7,"fill":"#22343c","baseline":"middle"},"encoding":{"x":{"value":1269},"y":{"value":8},"text":{"value":"Style"}}},
{"mark":{"type":"text","align":"left","fontSize":11,"fill":"#111111","fontWeight":"bold","baseline":"middle"},"encoding":{"x":{"value":1298},"y":{"value":8},"text":{"value":"T"}}},
{"mark":{"type":"text","align":"left","fontSize":7,"fill":"#22343c","baseline":"middle"},"encoding":{"x":{"value":1310},"y":{"value":8},"text":{"value":"Drawings"}}},
{"mark":{"type":"text","align":"left","font":"DejaVu Sans","fontSize":9,"fill":"#111111","baseline":"middle"},"encoding":{"x":{"value":1354},"y":{"value":8},"text":{"value":"⚗"}}},
{"mark":{"type":"text","align":"left","fontSize":7,"fill":"#22343c","baseline":"middle"},"encoding":{"x":{"value":1366},"y":{"value":8},"text":{"value":"Studies"}}},
{"mark":{"type":"text","align":"left","fontSize":7,"fill":"#22343c","baseline":"middle"},"encoding":{"x":{"value":1415},"y":{"value":8},"text":{"value":"Patterns"}}},
{"mark":{"type":"text","align":"left","fontSize":7,"fill":"#111111","fontWeight":"bold","baseline":"middle"},"encoding":{"x":{"value":3},"y":{"value":22},"text":{"value":"/ES 360 D 4h"}}},
{"mark":{"type":"text","align":"left","fontSize":7,"fill":"#333333","baseline":"middle"},"encoding":{"x":{"value":50},"y":{"value":22},"text":{"value":"D: 3/30/26 9:00 AM"}}},
{"mark":{"type":"text","align":"left","fontSize":7,"fill":"#333333","baseline":"middle"},"encoding":{"x":{"value":118},"y":{"value":22},"text":{"value":"O: 6464"}}},
{"mark":{"type":"text","align":"left","fontSize":7,"fill":"#333333","baseline":"middle"},"encoding":{"x":{"value":151},"y":{"value":22},"text":{"value":"H: 6471.25"}}},
{"mark":{"type":"text","align":"left","fontSize":7,"fill":"#333333","baseline":"middle"},"encoding":{"x":{"value":193},"y":{"value":22},"text":{"value":"L: 6441"}}},
{"mark":{"type":"text","align":"left","fontSize":7,"fill":"#333333","baseline":"middle"},"encoding":{"x":{"value":223},"y":{"value":22},"text":{"value":"C: 6442"}}},
{"mark":{"type":"text","align":"left","fontSize":7,"fill":"#333333","baseline":"middle"},"encoding":{"x":{"value":253},"y":{"value":22},"text":{"value":"R: 30.25"}}},
{"mark":{"type":"text","align":"left","fontSize":7,"fill":"#f2a2bd","baseline":"middle"},"encoding":{"x":{"value":285},"y":{"value":22},"text":{"value":"MovAvgExponential (CLOSE, 89, 0, no)"}}},
{"mark":{"type":"text","align":"left","fontSize":7,"fill":"#f2a2bd","baseline":"middle"},"encoding":{"x":{"value":413},"y":{"value":22},"text":{"value":"6649.85"}}},
{"mark":{"type":"text","align":"left","fontSize":7,"fill":"#2222cc","baseline":"middle"},"encoding":{"x":{"value":447},"y":{"value":22},"text":{"value":"MovAvgExponential (CLOSE, 8, 0, no)"}}},
{"mark":{"type":"text","align":"left","fontSize":7,"fill":"#2222cc","baseline":"middle"},"encoding":{"x":{"value":573},"y":{"value":22},"text":{"value":"6453.37"}}},
{"mark":{"type":"text","align":"left","fontSize":7,"fill":"#0c8a2a","baseline":"middle"},"encoding":{"x":{"value":604},"y":{"value":22},"text":{"value":"MovAvgExponential (CLOSE, 9, 0, no)"}}},
{"mark":{"type":"text","align":"left","fontSize":7,"fill":"#0c8a2a","baseline":"middle"},"encoding":{"x":{"value":729},"y":{"value":22},"text":{"value":"6458.02"}}}
]},
{"width":1456,"height":587,"view":{"fill":"#fdfdfd"},"layer":[
{"data":{"name":"levels"},"transform":[{"filter":"datum.kind=='pink'"}],"mark":{"type":"rule","stroke":"#f6b9cb","strokeWidth":1,"strokeDash":[13,5]},"encoding":{"x":{"datum":0,"type":"quantitative","scale":{"domain":[0,1456],"nice":false,"zero":false},"axis":null},"x2":{"datum":1417},"y":{"field":"price","type":"quantitative","scale":{"domain":[5878.7,7127.7],"nice":false,"zero":false},"axis":{"orient":"right","offset":-37,"values":[5900,6000,6100,6200,6300,6400,6500,6600,6700,6800,6900,7000,7100],"format":"d","title":null,"grid":false,"ticks":false,"labelFontSize":8,"labelColor":"#777777","labelPadding":2,"domainColor":"#888888","domainDash":[1,2],"labelBound":false}}}},
{"data":{"name":"ema89"},"mark":{"type":"line","stroke":"#f2a9bf","strokeWidth":1,"interpolate":"monotone"},"encoding":{"x":{"field":"bar","type":"quantitative"},"y":{"field":"v","type":"quantitative"}}},
{"data":{"name":"levels"},"transform":[{"filter":"datum.kind=='black'"}],"mark":{"type":"rule","stroke":"#000000","strokeWidth":3,"strokeDash":[13,5]},"encoding":{"x":{"datum":0,"type":"quantitative"},"x2":{"datum":1417},"y":{"field":"price","type":"quantitative"}}},
{"data":{"name":"levels"},"transform":[{"filter":"datum.kind=='blue'"}],"mark":{"type":"rule","stroke":"#1c0fb0","strokeWidth":2,"strokeDash":[13,5]},"encoding":{"x":{"datum":0,"type":"quantitative"},"x2":{"datum":1417},"y":{"field":"price","type":"quantitative"}}},
{"data":{"name":"candles"},"mark":{"type":"rule","strokeWidth":1.6},"encoding":{"x":{"field":"bar","type":"quantitative"},"y":{"field":"low","type":"quantitative"},"y2":{"field":"high"},"color":{"condition":{"test":"datum.close<datum.open","value":"#df1a1f"},"value":"#0f9a3e"}}},
{"data":{"name":"candles"},"mark":{"type":"rule","strokeWidth":3.5,"opacity":0.85},"encoding":{"x":{"field":"bar","type":"quantitative"},"y":{"field":"open","type":"quantitative"},"y2":{"field":"close"},"color":{"condition":{"test":"datum.close<datum.open","value":"#c8281c"},"value":"#2b8f3a"}}},
{"data":{"name":"candles"},"mark":{"type":"line","stroke":"#1212b4","strokeWidth":2.2},"encoding":{"x":{"field":"bar","type":"quantitative"},"y":{"field":"ema8","type":"quantitative"}}},
{"data":{"name":"levels"},"transform":[{"filter":"datum.kind=='pink'"}],"mark":{"type":"text","align":"right","dy":-6,"fontSize":8,"fill":"#f2a2bd"},"encoding":{"x":{"datum":1410,"type":"quantitative"},"y":{"field":"price","type":"quantitative"},"text":{"field":"label"}}},
{"data":{"name":"levels"},"transform":[{"filter":"datum.kind=='blue'"}],"mark":{"type":"text","align":"right","dy":-6,"fontSize":8,"fill":"#2a2acb"},"encoding":{"x":{"datum":1410,"type":"quantitative"},"y":{"field":"price","type":"quantitative"},"text":{"field":"label"}}},
{"data":{"name":"levels"},"transform":[{"filter":"datum.kind=='black'"}],"mark":{"type":"text","align":"right","dy":-8,"fontSize":8,"fill":"#222222"},"encoding":{"x":{"datum":1410,"type":"quantitative"},"y":{"field":"price","type":"quantitative"},"text":{"field":"label"}}},
{"data":{"name":"arrows"},"mark":{"type":"point","shape":"M-0.2,-1L0.2,-1L0.2,0.15L0.65,0.15L0,1L-0.65,0.15L-0.2,0.15Z","filled":true,"fill":"#000000","size":121,"opacity":1},"encoding":{"x":{"field":"bar","type":"quantitative"},"y":{"field":"price","type":"quantitative"}}},
{"data":{"values":[{"bar":1322.5}]},"mark":{"type":"rule","stroke":"#222222","strokeWidth":1},"encoding":{"x":{"field":"bar","type":"quantitative"}}},
{"data":{"values":[{"bar":1317,"price":5886,"label":"3/25/26 9:00 AM"}]},"mark":{"type":"text","angle":270,"align":"left","baseline":"middle","fontSize":7.5,"fill":"#333333"},"encoding":{"x":{"field":"bar","type":"quantitative"},"y":{"field":"price","type":"quantitative"},"text":{"field":"label"}}},
{"data":{"values":[{"price":6649.85,"label":"6649.85"}]},"mark":{"type":"rect","height":11,"cornerRadius":2,"fill":"#ee8aa6","stroke":"#c9607e"},"encoding":{"x":{"datum":1422,"type":"quantitative"},"x2":{"datum":1452},"y":{"field":"price","type":"quantitative"}}},
{"data":{"values":[{"price":6649.85,"label":"6649.85"}]},"mark":{"type":"text","align":"left","fontSize":8,"fill":"#7a1c36"},"encoding":{"x":{"datum":1423,"type":"quantitative"},"y":{"field":"price","type":"quantitative"},"text":{"field":"label"}}},
{"data":{"values":[{"price":6442,"label":"6442"}]},"mark":{"type":"rect","height":10,"cornerRadius":2,"fill":"#a80f14"},"encoding":{"x":{"datum":1422,"type":"quantitative"},"x2":{"datum":1441},"y":{"field":"price","type":"quantitative"}}},
{"data":{"values":[{"price":6442,"label":"6442"}]},"mark":{"type":"text","align":"left","fontSize":8,"fill":"#ffffff"},"encoding":{"x":{"datum":1423,"type":"quantitative"},"y":{"field":"price","type":"quantitative"},"text":{"field":"label"}}},
{"data":{"values":[{"text":"/ES Futures March 30, 2026"}]},"mark":{"type":"text","align":"left","baseline":"alphabetic","font":"Open Sans","fontWeight":"bold","fontSize":23,"fill":"#000000"},"encoding":{"x":{"value":227},"y":{"value":56},"text":{"field":"text"}}}
]},
{"width":1456,"height":16,"view":{"fill":"#f2f2f2"},"data":{"values":[{}]},"layer":[
{"mark":{"type":"rect","fill":"#ffffff"},"encoding":{"x":{"value":0},"x2":{"value":182},"y":{"value":2},"y2":{"value":15}}},
{"mark":{"type":"text","align":"left","fontSize":7,"fill":"#0c8a2a","baseline":"middle"},"encoding":{"x":{"value":2},"y":{"value":8},"text":{"value":"RSI (13, 60, 40, CLOSE, WILDERS, no)"}}},
{"mark":{"type":"text","align":"left","fontSize":7,"fill":"#0c8a2a","baseline":"middle"},"encoding":{"x":{"value":125},"y":{"value":8},"text":{"value":"36.5044"}}},
{"mark":{"type":"text","align":"left","fontSize":7,"fill":"#b44fe0","baseline":"middle"},"encoding":{"x":{"value":158},"y":{"value":8},"text":{"value":"40"}}},
{"mark":{"type":"text","align":"left","fontSize":7,"fill":"#b44fe0","baseline":"middle"},"encoding":{"x":{"value":171},"y":{"value":8},"text":{"value":"60"}}}
]},
{"width":1456,"height":86,"view":{"fill":"#fdfdfd"},"layer":[
{"data":{"values":[{"level":60},{"level":40}]},"mark":{"type":"rule","stroke":"#c876ea","strokeWidth":1.5},"encoding":{"x":{"datum":0,"type":"quantitative","scale":{"domain":[0,1456],"nice":false,"zero":false},"axis":null},"x2":{"datum":1417},"y":{"field":"level","type":"quantitative","scale":{"domain":[16,84],"nice":false,"zero":false},"axis":{"orient":"right","offset":-37,"values":[20,40,60,80],"title":null,"grid":false,"ticks":false,"labelFontSize":8,"labelColor":"#777777","labelPadding":2,"domainColor":"#888888","domainDash":[1,2],"labelBound":false}}}},
{"data":{"name":"rsi"},"transform":[{"window":[{"op":"lead","field":"bar","as":"nextBar"},{"op":"lead","field":"rsi","as":"nextRsi"}],"sort":[{"field":"bar"}]},{"filter":"datum.nextBar!=null"}],"mark":{"type":"rule","strokeWidth":1},"encoding":{"x":{"field":"bar","type":"quantitative"},"x2":{"field":"nextBar"},"y":{"field":"rsi","type":"quantitative"},"y2":{"field":"nextRsi"},"color":{"condition":[{"test":"datum.rsi>60&&datum.nextRsi>=58","value":"#c0393c"},{"test":"datum.rsi<40&&datum.nextRsi<=42","value":"#1e8c2f"}],"value":"#111111"}}},
{"data":{"values":[{"bar":1322.5}]},"mark":{"type":"rule","stroke":"#222222","strokeWidth":1},"encoding":{"x":{"field":"bar","type":"quantitative"}}},
{"data":{"values":[{"price":60,"label":"60"}]},"mark":{"type":"rect","height":9,"cornerRadius":2,"fill":"#a61ff0"},"encoding":{"x":{"datum":1422,"type":"quantitative"},"x2":{"datum":1434},"y":{"field":"price","type":"quantitative"}}},
{"data":{"values":[{"price":60,"label":"60"}]},"mark":{"type":"text","align":"left","fontSize":8,"fill":"#ffffff"},"encoding":{"x":{"datum":1423,"type":"quantitative"},"y":{"field":"price","type":"quantitative"},"text":{"field":"label"}}},
{"data":{"values":[{"price":36.5,"label":"36.5044"}]},"mark":{"type":"rect","height":9,"cornerRadius":2,"fill":"#0b7f12"},"encoding":{"x":{"datum":1421,"type":"quantitative"},"x2":{"datum":1452},"y":{"field":"price","type":"quantitative"}}},
{"data":{"values":[{"price":36.5,"label":"36.5044"}]},"mark":{"type":"text","align":"left","fontSize":8,"fill":"#ffffff"},"encoding":{"x":{"datum":1422,"type":"quantitative"},"y":{"field":"price","type":"quantitative"},"text":{"field":"label"}}},
{"data":{"name":"ticks"},"mark":{"type":"text","align":"center","baseline":"middle","fontSize":8,"fill":"#777777"},"encoding":{"x":{"field":"bar","type":"quantitative"},"y":{"datum":12.1,"type":"quantitative"},"text":{"field":"label"}}}
]}
]}
